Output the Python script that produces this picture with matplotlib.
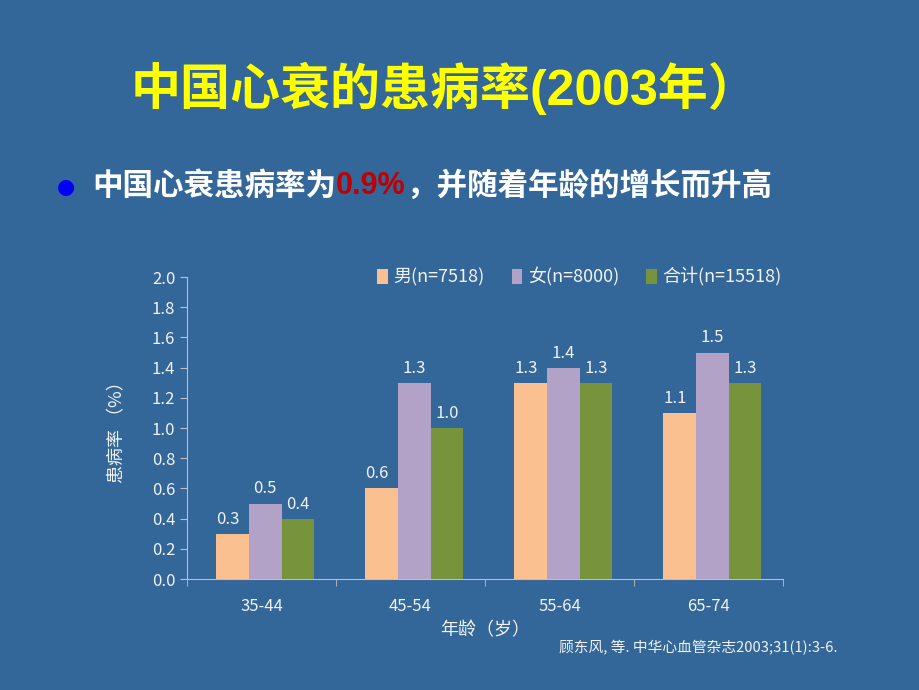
import matplotlib
matplotlib.use("Agg")
import matplotlib.pyplot as plt
import numpy as np

plt.rcParams['font.family'] = ['Noto Sans CJK SC', 'DejaVu Sans']

categories = ["35-44", "45-54", "55-64", "65-74"]
series_names = ["男(n=7518)", "女(n=8000)", "合计(n=15518)"]
male = [0.3, 0.6, 1.3, 1.1]
female = [0.5, 1.3, 1.4, 1.5]
total = [0.4, 1.0, 1.3, 1.3]
yticks = [0.0, 0.2, 0.4, 0.6, 0.8, 1.0, 1.2, 1.4, 1.6, 1.8, 2.0]

bg = "#336699"
colors = ["#FAC090", "#B3A2C7", "#77933C"]
txt = "#F2F2F2"

fig = plt.figure(figsize=(9.2, 6.9), dpi=100, facecolor=bg)
fig.text(445/920, 1 - 88/690, "中国心衰的患病率(2003年）", color="#FFFF00",
         fontsize=36, fontweight="bold", ha="center", va="center",
         family=['Liberation Sans', 'Noto Sans CJK SC'])
fig.text(66/920, 1 - 187/690, "●", color="#0000FF", fontsize=15, ha="center", va="center",
         family=['DejaVu Sans'])
fig.text(92/920, 1 - 186/690, "中国心衰患病率为", color="white", fontsize=22,
         fontweight="bold", ha="left", va="center")
fig.canvas.draw()
r = fig.canvas.get_renderer()
t1 = fig.texts[-1]
bb = t1.get_window_extent(renderer=r)
t2 = fig.text(bb.x1/920, 1 - 186/690, "0.9%", color="#C00000", fontsize=22,
              fontweight="bold", ha="left", va="center",
              family=['Liberation Sans', 'DejaVu Sans'])
bb2 = t2.get_window_extent(renderer=r)
fig.text(bb2.x1/920, 1 - 186/690, "，并随着年龄的增长而升高", color="white", fontsize=22,
         fontweight="bold", ha="left", va="center")

ax = fig.add_axes([187/920, (690-579)/690, (783-187)/920, (579-277)/690])
ax.set_facecolor(bg)
x = np.arange(len(categories))
w = 0.22
for i, (vals, c, name) in enumerate(zip([male, female, total], colors, series_names)):
    bars = ax.bar(x + 0.025 + (i - 1) * w, vals, width=w, color=c, label=name, zorder=3)
    for b, v in zip(bars, vals):
        ax.text(b.get_x() + b.get_width()/2 - (0.03 if i == 0 else 0), v + 0.04, f"{v:.1f}",
                ha="center", va="bottom", color=txt, fontsize=12)

ax.set_xlim(-0.5, 3.5)
ax.set_ylim(0, 2.0)
ax.set_yticks(yticks)
ax.set_yticklabels([f"{v:.1f}" for v in yticks])
ax.set_xticks(x)
ax.set_xticklabels(categories)
ax.set_xticks([-0.5, 0.5, 1.5, 2.5, 3.5], minor=True)
ax.tick_params(axis='x', which='major', length=0, pad=14, colors=txt, labelsize=12)
ax.tick_params(axis='x', which='minor', length=5, color="#BFBFBF", direction='out')
ax.tick_params(axis='y', length=5, color="#BFBFBF", colors=txt, labelsize=12, direction='out')
for s in ["top", "right"]:
    ax.spines[s].set_visible(False)
for s in ["left", "bottom"]:
    ax.spines[s].set_color("#BFBFBF")

ax.set_ylabel("患病率 （%）", color=txt, fontsize=13, labelpad=18)
ax.set_xlabel("年龄（岁）", color=txt, fontsize=13, labelpad=4)

leg = ax.legend(loc="center right", bbox_to_anchor=(1.025, 1.0), ncol=3, frameon=False,
                fontsize=13, handlelength=0.6, handleheight=0.9, handletextpad=0.3,
                columnspacing=1.5, labelcolor=txt)

fig.text(838/920, 1 - 648/690, "顾东风, 等. 中华心血管杂志2003;31(1):3-6.", color=txt,
         fontsize=10.6, ha="right", va="center")

fig.savefig("out.png", dpi=100, facecolor=bg)
